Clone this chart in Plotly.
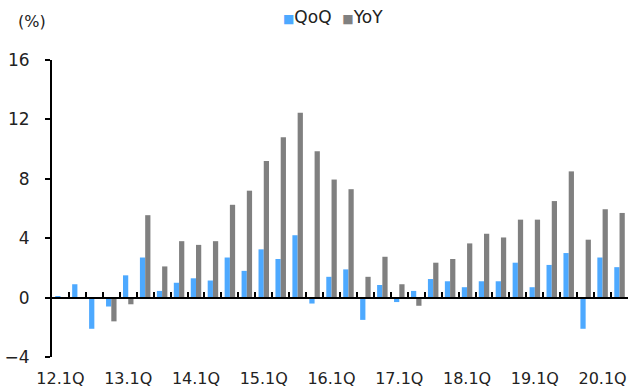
import plotly.graph_objects as go

# Quarterly categories 12.1Q .. 20.2Q
quarters = [f"{y}.{q}Q" for y in range(12, 21) for q in range(1, 5)][:34]
tick_labels = ["12.1Q", "13.1Q", "14.1Q", "15.1Q", "16.1Q", "17.1Q", "18.1Q", "19.1Q", "20.1Q"]

qoq = [0.1, 0.9, -2.1, -0.6, 1.5, 2.7, 0.45, 1.0, 1.3, 1.15, 2.7, 1.8,
       3.25, 2.6, 4.2, -0.4, 1.4, 1.9, -1.5, 0.85, -0.3, 0.45, 1.25, 1.1,
       0.7, 1.1, 1.1, 2.35, 0.7, 2.2, 3.0, -2.1, 2.7, 2.05]
yoy = [None, None, None, -1.6, -0.45, 5.55, 2.1, 3.8, 3.55, 3.8, 6.25, 7.2,
       9.2, 10.8, 12.45, 9.85, 7.95, 7.3, 1.4, 2.75, 0.9, -0.55, 2.35, 2.6,
       3.65, 4.3, 4.05, 5.25, 5.25, 6.5, 8.5, 3.9, 5.95, 5.7]

BLUE = "#4DA9FF"
GRAY = "#808080"
FONT = "DejaVu Sans"
TXT = "#222"

n = len(quarters)
positions = list(range(n))
boundaries = [i + 0.5 for i in range(n)]

fig = go.Figure()
fig.add_trace(go.Bar(x=quarters, y=qoq, name="QoQ", marker_color=BLUE,
                     marker_line_width=0, showlegend=False))
fig.add_trace(go.Bar(x=quarters, y=yoy, name="YoY", marker_color=GRAY,
                     marker_line_width=0, showlegend=False))
# helper trace on the zero-line axis that carries the category boundary ticks
fig.add_trace(go.Scatter(x=positions, y=[0] * n, xaxis="x2",
                         mode="lines", line=dict(width=0), hoverinfo="skip",
                         showlegend=False))

fig.update_layout(
    width=632, height=391,
    margin=dict(l=52, r=4, t=60, b=34),
    paper_bgcolor="white", plot_bgcolor="white",
    barmode="group", bargap=0.38, bargroupgap=0,
    font=dict(family=FONT, size=16, color=TXT),
    xaxis=dict(type="category", categoryorder="array", categoryarray=quarters,
               range=[-0.5, n - 0.5], tickmode="array", tickvals=tick_labels,
               ticktext=tick_labels, showline=False, ticks="",
               showgrid=False, zeroline=False, ticklabelstandoff=10,
               automargin=False,
               tickfont=dict(size=16, family=FONT, color=TXT)),
    xaxis2=dict(type="linear", overlaying="x", anchor="free", position=0.2,
                range=[-0.5, n - 0.5], showline=True, linecolor="black",
                linewidth=2, ticks="inside", tickmode="array",
                tickvals=boundaries, ticklen=5, tickwidth=2,
                tickcolor="black", showticklabels=False, showgrid=False,
                zeroline=False),
    yaxis=dict(range=[-4, 16], tickvals=[-4, 0, 4, 8, 12, 16],
               showline=True, linecolor="black", linewidth=2,
               ticks="outside", ticklen=5, tickwidth=2, tickcolor="black",
               showgrid=False, zeroline=False, ticklabelstandoff=12,
               automargin=False,
               tickfont=dict(size=17, family=FONT, color=TXT)),
    annotations=[
        dict(text="(%)", xref="paper", yref="paper", x=-0.035, y=1.128,
             xanchor="center", yanchor="middle", showarrow=False,
             font=dict(size=16, family=FONT, color=TXT)),
        dict(text=f"<span style='color:{BLUE};font-size:12px'>■</span>QoQ  "
                  f"<span style='color:{GRAY};font-size:12px'>■</span>YoY",
             xref="paper", yref="paper", x=0.488, y=1.145,
             xanchor="center", yanchor="middle", showarrow=False,
             font=dict(size=17, family=FONT, color=TXT)),
    ],
)

fig.write_html("out.html")
